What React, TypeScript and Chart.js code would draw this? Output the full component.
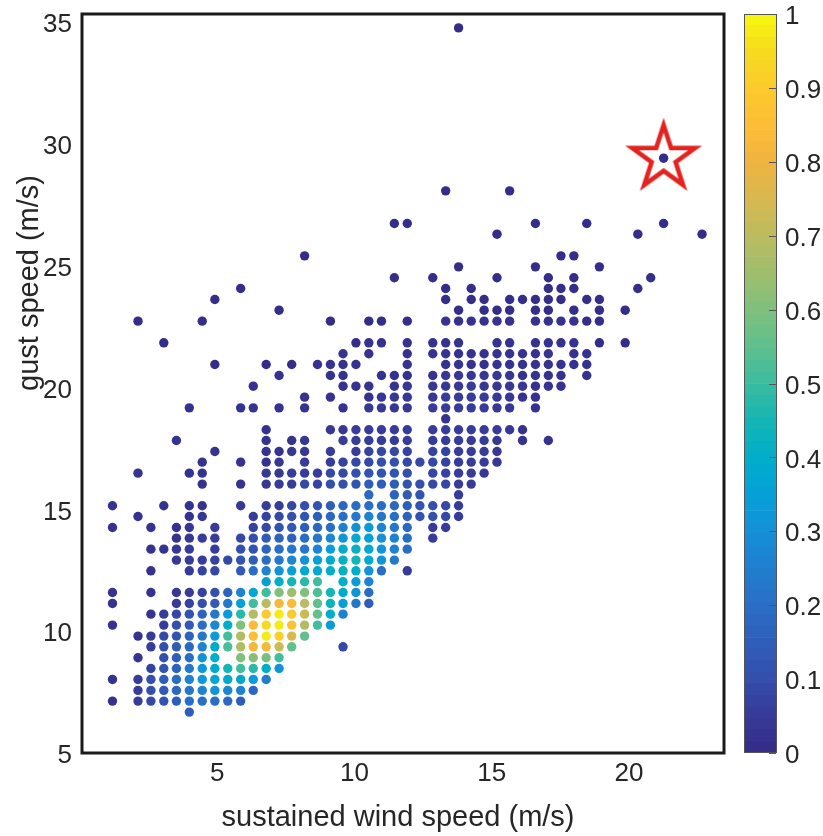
import { useEffect, useRef } from "react";
import { Chart, registerables } from "chart.js";

Chart.register(...registerables);

// ---------------- data ----------------
// gust speed of each row of points (m/s)
const gustLevels = [
  6.68, 7.13, 7.57, 8.02, 8.47, 8.91, 9.36, 9.8, 10.25, 10.7, 11.14, 11.59, 12.03, 12.48, 12.92,
  13.37, 13.82, 14.26, 14.71, 15.15, 15.6, 16.04, 16.49, 16.94, 17.38, 17.83, 18.27, 18.72, 19.17,
  19.61, 20.06, 20.5, 20.95, 21.39, 21.84, 22.73, 23.18, 23.62, 24.07, 24.51, 24.96, 25.41, 26.3,
  26.74, 28.08, 29.42, 34.77,
];

// sustained wind speeds (m/s) of the points in each gust row
const sustainedByRow = [
  [3.98],
  [1.18, 2.11, 2.58, 3.05, 3.51, 3.98, 4.45, 4.91, 5.38, 5.85],
  [2.11, 2.58, 3.05, 3.51, 3.98, 4.45, 4.91, 5.38, 5.85, 6.31],
  [1.18, 2.11, 2.58, 3.05, 3.51, 3.98, 4.45, 4.91, 5.38, 5.85, 6.31, 6.78],
  [2.58, 3.05, 3.51, 3.98, 4.45, 4.91, 5.38, 5.85, 6.31, 6.78, 7.25],
  [2.11, 3.05, 3.51, 3.98, 4.45, 4.91, 5.85, 6.31, 6.78, 7.25],
  [2.58, 3.05, 3.51, 3.98, 4.45, 4.91, 5.38, 5.85, 6.31, 6.78, 7.25, 7.71, 9.58],
  [2.11, 2.58, 3.05, 3.51, 3.98, 4.45, 4.91, 5.38, 5.85, 6.31, 6.78, 7.25, 7.71, 8.18],
  [1.18, 3.05, 3.51, 3.98, 4.45, 4.91, 5.38, 5.85, 6.31, 6.78, 7.25, 7.71, 8.18, 8.65, 9.12],
  [2.58, 3.05, 3.51, 3.98, 4.45, 4.91, 5.38, 5.85, 6.31, 6.78, 7.25, 7.71, 8.18, 8.65, 9.12, 9.58],
  [1.18, 3.51, 3.98, 4.45, 4.91, 5.38, 5.85, 6.31, 6.78, 7.25, 7.71, 8.18, 8.65, 9.12, 9.58, 10.05, 10.52],
  [1.18, 2.58, 3.51, 3.98, 4.45, 4.91, 5.38, 5.85, 6.31, 6.78, 7.25, 7.71, 8.18, 8.65, 9.12, 9.58, 10.05, 10.52],
  [6.78, 7.25, 7.71, 8.18, 8.65, 9.58, 10.05, 10.52],
  [2.58, 3.98, 4.45, 4.91, 5.85, 6.31, 6.78, 7.25, 7.71, 8.18, 8.65, 9.12, 9.58, 10.05, 10.52, 10.98, 11.92],
  [3.51, 3.98, 4.45, 4.91, 5.38, 5.85, 6.31, 6.78, 7.25, 7.71, 8.18, 8.65, 9.12, 9.58, 10.05, 10.52, 10.98, 11.45],
  [2.58, 3.05, 3.51, 3.98, 4.91, 5.85, 6.31, 6.78, 7.25, 7.71, 8.18, 8.65, 9.12, 9.58, 10.05, 10.52, 10.98, 11.45, 11.92],
  [3.51, 3.98, 4.45, 4.91, 5.85, 6.31, 6.78, 7.25, 7.71, 8.18, 8.65, 9.12, 9.58, 10.05, 10.52, 10.98, 11.45, 11.92, 12.85],
  [1.18, 2.58, 3.51, 3.98, 4.91, 6.31, 6.78, 7.25, 7.71, 8.18, 8.65, 9.12, 9.58, 10.05, 10.52, 10.98, 11.45, 11.92, 12.85, 13.32],
  [2.11, 3.98, 4.45, 6.31, 6.78, 7.25, 7.71, 8.18, 8.65, 9.12, 9.58, 10.05, 10.52, 10.98, 11.45, 11.92, 12.38, 12.85, 13.32, 13.79],
  [1.18, 3.05, 3.98, 4.45, 5.85, 6.78, 7.25, 7.71, 8.18, 8.65, 9.12, 9.58, 10.05, 10.52, 10.98, 11.45, 11.92, 12.38, 12.85, 13.32, 13.79],
  [10.52, 11.45, 11.92, 12.38, 13.79],
  [4.45, 5.85, 6.78, 7.25, 7.71, 8.18, 8.65, 9.12, 9.58, 10.05, 10.52, 10.98, 11.45, 11.92, 12.38, 12.85, 13.32, 13.79, 14.25],
  [2.11, 3.98, 4.45, 6.78, 7.25, 7.71, 8.18, 8.65, 9.12, 9.58, 10.05, 10.52, 10.98, 11.45, 11.92, 12.85, 13.32, 13.79, 14.25, 14.72],
  [4.45, 5.85, 6.78, 7.25, 8.18, 9.12, 9.58, 10.05, 10.52, 10.98, 11.45, 11.92, 12.38, 12.85, 13.32, 13.79, 14.25, 14.72, 15.19],
  [4.91, 6.78, 7.25, 7.71, 8.18, 9.12, 10.05, 10.52, 10.98, 11.45, 11.92, 12.85, 13.32, 13.79, 14.25, 14.72, 15.19],
  [3.51, 6.78, 7.71, 8.18, 9.58, 10.05, 10.52, 10.98, 11.45, 11.92, 12.85, 13.32, 13.79, 14.25, 14.72, 15.19, 16.12, 17.06],
  [6.78, 9.12, 9.58, 10.05, 10.52, 10.98, 11.45, 11.92, 12.85, 13.32, 13.79, 14.25, 14.72, 15.19, 15.65, 16.12],
  [13.32],
  [3.98, 5.85, 6.31, 7.25, 8.18, 9.58, 10.52, 10.98, 11.45, 11.92, 12.85, 13.32, 13.79, 14.25, 14.72, 15.19, 15.65, 16.59],
  [8.18, 9.12, 10.52, 10.98, 11.45, 11.92, 12.85, 13.32, 13.79, 14.25, 14.72, 15.19, 15.65, 16.12, 16.59],
  [6.31, 9.58, 10.05, 10.52, 11.45, 11.92, 12.85, 13.32, 13.79, 14.25, 14.72, 15.19, 15.65, 16.12, 16.59, 17.06, 17.52],
  [7.25, 9.12, 9.58, 10.98, 11.45, 11.92, 12.85, 13.32, 13.79, 14.25, 14.72, 15.19, 15.65, 16.12, 16.59, 17.06, 17.52, 18.46],
  [4.91, 6.78, 7.71, 8.65, 9.12, 9.58, 10.05, 11.92, 13.32, 13.79, 14.25, 14.72, 15.19, 15.65, 16.12, 16.59, 17.06, 17.52, 17.99, 18.46],
  [9.58, 10.52, 11.92, 12.85, 13.32, 13.79, 14.25, 14.72, 15.19, 15.65, 16.12, 16.59, 17.06, 17.99, 18.46],
  [3.05, 10.05, 10.52, 10.98, 11.92, 12.85, 13.32, 13.79, 15.19, 15.65, 16.59, 17.06, 17.52, 17.99, 18.92, 19.86],
  [2.11, 4.45, 9.12, 10.52, 10.98, 11.92, 13.32, 13.79, 14.25, 14.72, 15.19, 15.65, 16.59, 17.06, 17.52, 17.99, 18.46, 18.92],
  [7.25, 13.79, 14.72, 15.19, 15.65, 16.59, 17.06, 17.99, 18.92, 19.86],
  [4.91, 13.32, 14.25, 14.72, 15.65, 16.12, 16.59, 17.06, 17.52, 18.46, 18.92],
  [5.85, 13.32, 14.25, 17.06, 17.52, 17.99, 20.32],
  [11.45, 12.85, 15.19, 17.06, 17.99, 20.79],
  [13.79, 16.59, 18.92],
  [8.18, 17.52, 17.99],
  [15.19, 20.32, 22.66],
  [11.45, 11.92, 16.59, 18.46, 21.26],
  [13.32, 15.65],
  [21.26],
  [13.79],
];

// normalised point density (colour value 0..1) of each point above
const densityByRow = [
  [0.15],
  [0.02, 0.05, 0.08, 0.12, 0.15, 0.19, 0.2, 0.2, 0.18, 0.15],
  [0.05, 0.1, 0.14, 0.18, 0.22, 0.26, 0.3, 0.28, 0.25, 0.18],
  [0.02, 0.05, 0.1, 0.15, 0.2, 0.25, 0.32, 0.37, 0.38, 0.37, 0.33, 0.24],
  [0.07, 0.12, 0.17, 0.22, 0.32, 0.38, 0.45, 0.5, 0.47, 0.4, 0.3],
  [0.03, 0.1, 0.15, 0.2, 0.3, 0.4, 0.6, 0.62, 0.58, 0.5],
  [0.05, 0.1, 0.14, 0.18, 0.26, 0.38, 0.52, 0.68, 0.82, 0.82, 0.72, 0.55, 0.08],
  [0.03, 0.06, 0.09, 0.12, 0.16, 0.23, 0.34, 0.5, 0.68, 0.85, 0.97, 0.92, 0.75, 0.55],
  [0.02, 0.06, 0.1, 0.14, 0.2, 0.27, 0.4, 0.6, 0.83, 0.95, 0.98, 0.87, 0.68, 0.5, 0.33],
  [0.03, 0.05, 0.08, 0.11, 0.16, 0.22, 0.33, 0.48, 0.68, 0.9, 0.97, 0.9, 0.72, 0.55, 0.4, 0.25],
  [0.02, 0.05, 0.07, 0.1, 0.14, 0.22, 0.35, 0.5, 0.7, 0.82, 0.83, 0.7, 0.55, 0.43, 0.35, 0.22, 0.15],
  [0.02, 0.02, 0.04, 0.05, 0.07, 0.1, 0.16, 0.26, 0.36, 0.5, 0.6, 0.65, 0.6, 0.52, 0.45, 0.38, 0.3, 0.2],
  [0.33, 0.4, 0.45, 0.48, 0.5, 0.4, 0.33, 0.25],
  [0.03, 0.05, 0.07, 0.08, 0.14, 0.2, 0.25, 0.3, 0.35, 0.38, 0.38, 0.4, 0.42, 0.4, 0.3, 0.2, 0.05],
  [0.04, 0.05, 0.06, 0.07, 0.08, 0.12, 0.15, 0.2, 0.23, 0.28, 0.3, 0.35, 0.38, 0.42, 0.45, 0.38, 0.32, 0.22],
  [0.03, 0.03, 0.04, 0.05, 0.06, 0.1, 0.12, 0.17, 0.2, 0.22, 0.22, 0.28, 0.35, 0.4, 0.42, 0.38, 0.32, 0.25, 0.2],
  [0.03, 0.04, 0.05, 0.06, 0.08, 0.1, 0.14, 0.16, 0.17, 0.2, 0.22, 0.28, 0.32, 0.38, 0.35, 0.3, 0.25, 0.2, 0.05],
  [0.02, 0.02, 0.03, 0.04, 0.05, 0.07, 0.09, 0.11, 0.13, 0.15, 0.18, 0.2, 0.25, 0.3, 0.33, 0.28, 0.22, 0.18, 0.06, 0.05],
  [0.02, 0.03, 0.04, 0.05, 0.07, 0.08, 0.1, 0.12, 0.15, 0.18, 0.2, 0.22, 0.25, 0.22, 0.2, 0.16, 0.12, 0.1, 0.08, 0.05],
  [0.02, 0.02, 0.03, 0.03, 0.04, 0.05, 0.06, 0.08, 0.1, 0.12, 0.15, 0.18, 0.2, 0.2, 0.2, 0.18, 0.15, 0.12, 0.1, 0.08, 0.05],
  [0.18, 0.16, 0.14, 0.12, 0.05],
  [0.02, 0.03, 0.04, 0.05, 0.06, 0.08, 0.07, 0.1, 0.1, 0.12, 0.15, 0.15, 0.15, 0.12, 0.1, 0.09, 0.08, 0.06, 0.05],
  [0.02, 0.02, 0.03, 0.04, 0.04, 0.05, 0.06, 0.06, 0.08, 0.08, 0.1, 0.12, 0.12, 0.12, 0.1, 0.08, 0.07, 0.06, 0.05, 0.04],
  [0.02, 0.02, 0.03, 0.04, 0.05, 0.06, 0.07, 0.08, 0.09, 0.1, 0.1, 0.09, 0.08, 0.08, 0.07, 0.06, 0.06, 0.05, 0.04],
  [0.02, 0.03, 0.03, 0.04, 0.04, 0.05, 0.06, 0.07, 0.08, 0.08, 0.07, 0.07, 0.07, 0.06, 0.05, 0.05, 0.04],
  [0.02, 0.03, 0.03, 0.04, 0.05, 0.05, 0.06, 0.06, 0.06, 0.06, 0.06, 0.06, 0.05, 0.05, 0.05, 0.04, 0.03, 0.02],
  [0.02, 0.04, 0.04, 0.05, 0.05, 0.05, 0.05, 0.05, 0.06, 0.06, 0.06, 0.06, 0.05, 0.05, 0.04, 0.03],
  [0.03],
  [0.02, 0.02, 0.02, 0.02, 0.03, 0.03, 0.04, 0.04, 0.04, 0.04, 0.05, 0.05, 0.05, 0.05, 0.05, 0.04, 0.04, 0.03],
  [0.02, 0.03, 0.03, 0.04, 0.04, 0.04, 0.04, 0.05, 0.05, 0.05, 0.05, 0.04, 0.04, 0.03, 0.03],
  [0.02, 0.03, 0.03, 0.03, 0.03, 0.04, 0.04, 0.04, 0.04, 0.05, 0.04, 0.04, 0.04, 0.04, 0.03, 0.03, 0.02],
  [0.02, 0.02, 0.02, 0.03, 0.03, 0.03, 0.03, 0.04, 0.04, 0.04, 0.04, 0.04, 0.04, 0.03, 0.03, 0.03, 0.02, 0.02],
  [0.01, 0.01, 0.01, 0.02, 0.02, 0.02, 0.02, 0.02, 0.03, 0.03, 0.03, 0.03, 0.03, 0.03, 0.03, 0.03, 0.03, 0.02, 0.02, 0.02],
  [0.02, 0.02, 0.02, 0.02, 0.02, 0.03, 0.03, 0.03, 0.03, 0.03, 0.02, 0.02, 0.02, 0.02, 0.02],
  [0.01, 0.01, 0.02, 0.02, 0.02, 0.02, 0.02, 0.02, 0.02, 0.02, 0.02, 0.02, 0.02, 0.02, 0.01, 0.01],
  [0.01, 0.01, 0.01, 0.01, 0.01, 0.01, 0.02, 0.02, 0.02, 0.02, 0.02, 0.02, 0.02, 0.02, 0.02, 0.02, 0.01, 0.01],
  [0.01, 0.01, 0.01, 0.01, 0.01, 0.01, 0.01, 0.01, 0.01, 0.01],
  [0.01, 0.01, 0.01, 0.01, 0.01, 0.01, 0.01, 0.01, 0.01, 0.01, 0.01],
  [0.01, 0.01, 0.01, 0.01, 0.01, 0.01, 0.01],
  [0.01, 0.01, 0.01, 0.01, 0.01, 0.01],
  [0.01, 0.01, 0.01],
  [0.01, 0.01, 0.01],
  [0.01, 0.01, 0.01],
  [0.01, 0.01, 0.01, 0.01, 0.01],
  [0.01, 0.01],
  [0.01],
  [0.01],
];

// the highlighted (starred) observation
const markedSustained = 21.26;
const markedGust = 29.42;

const xTickValues = [5, 10, 15, 20];
const yTickValues = [5, 10, 15, 20, 25, 30, 35];
const colorbarTickValues = [0, 0.1, 0.2, 0.3, 0.4, 0.5, 0.6, 0.7, 0.8, 0.9, 1];
const xTitle = "sustained wind speed (m/s)";
const yTitle = "gust speed (m/s)";

// ---------------- styling ----------------
const FONT = '"Liberation Sans", Arial, Helvetica, sans-serif';
const TEXT = "#262626";

// colour map stops (position, colour) as seen on the reference colour bar
const CMAP_STOPS: [number, number[]][] = [
  [0.0, [53, 42, 135]],
  [0.05, [55, 58, 152]],
  [0.1, [52, 78, 172]],
  [0.15, [47, 94, 186]],
  [0.2, [42, 110, 198]],
  [0.25, [33, 126, 208]],
  [0.3, [20, 144, 216]],
  [0.35, [5, 160, 216]],
  [0.4, [0, 174, 200]],
  [0.45, [22, 182, 180]],
  [0.5, [60, 188, 160]],
  [0.55, [94, 192, 140]],
  [0.6, [128, 192, 124]],
  [0.65, [160, 190, 108]],
  [0.7, [188, 188, 96]],
  [0.75, [216, 184, 80]],
  [0.8, [240, 180, 64]],
  [0.85, [252, 190, 54]],
  [0.9, [252, 202, 44]],
  [0.95, [246, 220, 30]],
  [1.0, [248, 248, 14]],
];

function cmapAt(t: number): number[] {
  for (let i = 1; i < CMAP_STOPS.length; i++) {
    const [t1, c1] = CMAP_STOPS[i];
    const [t0, c0] = CMAP_STOPS[i - 1];
    if (t <= t1) {
      const f = (t - t0) / (t1 - t0);
      return c0.map((v, k) => v + (c1[k] - v) * f);
    }
  }
  return CMAP_STOPS[CMAP_STOPS.length - 1][1];
}

const LEVELS = 64;
const COLORMAP: string[] = Array.from({ length: LEVELS }, (_, k) => {
  const c = cmapAt((k + 0.5) / LEVELS);
  return `rgb(${Math.round(c[0])},${Math.round(c[1])},${Math.round(c[2])})`;
});

function colorFor(v: number) {
  const k = Math.max(0, Math.min(LEVELS - 1, Math.floor(v * LEVELS)));
  return COLORMAP[k];
}

function makeStar(): HTMLCanvasElement {
  const cv = document.createElement("canvas");
  cv.width = 96;
  cv.height = 96;
  const ctx = cv.getContext("2d")!;
  const c = 48;
  const R = 33;
  const r = R * 0.382;
  ctx.beginPath();
  for (let k = 0; k < 10; k++) {
    const a = -Math.PI / 2 + (k * Math.PI) / 5;
    const rad = k % 2 === 0 ? R : r;
    const px = c + rad * Math.cos(a);
    const py = c + rad * Math.sin(a);
    if (k === 0) ctx.moveTo(px, py);
    else ctx.lineTo(px, py);
  }
  ctx.closePath();
  ctx.lineJoin = "miter";
  ctx.miterLimit = 10;
  ctx.lineWidth = 4.6;
  ctx.strokeStyle = "#e3231f";
  ctx.stroke();
  return cv;
}

const zeroPad = (s: any) => {
  s.paddingLeft = 0;
  s.paddingRight = 0;
  s.paddingTop = 0;
  s.paddingBottom = 0;
};

export default function App() {
  const mainRef = useRef<HTMLCanvasElement>(null);
  const barRef = useRef<HTMLCanvasElement>(null);

  useEffect(() => {
    document.body.style.margin = "0";
    const points: { x: number; y: number }[] = [];
    const colors: string[] = [];
    gustLevels.forEach((g, r) => {
      sustainedByRow[r].forEach((s, k) => {
        points.push({ x: s, y: g });
        colors.push(colorFor(densityByRow[r][k] ?? 0));
      });
    });

    const tickFont = { family: FONT, size: 26 };

    const framePlugin = {
      id: "frame",
      afterDraw(chart: any) {
        const { ctx, chartArea: a } = chart;
        ctx.save();
        ctx.strokeStyle = "#1a1a1a";
        ctx.lineWidth = 3;
        ctx.strokeRect(a.left, a.top, a.right - a.left, a.bottom - a.top);
        ctx.fillStyle = TEXT;
        ctx.font = `29px ${FONT}`;
        ctx.textAlign = "center";
        ctx.textBaseline = "middle";
        ctx.fillText(xTitle, 398, 818);
        ctx.translate(30, 283);
        ctx.rotate(-Math.PI / 2);
        ctx.fillText(yTitle, 0, 0);
        ctx.restore();
      },
    };

    const main = new Chart(mainRef.current!, {
      type: "scatter",
      data: {
        datasets: [
          {
            data: points,
            backgroundColor: colors,
            borderWidth: 0,
            pointRadius: 4.7,
            pointHoverRadius: 4.7,
          },
          {
            data: [{ x: markedSustained, y: markedGust }],
            pointStyle: makeStar() as any,
            pointRadius: 30,
            backgroundColor: "rgba(0,0,0,0)",
            borderWidth: 0,
          },
        ],
      },
      options: {
        responsive: false,
        animation: false,
        events: [],
        layout: { autoPadding: false, padding: { left: 0, top: 14, right: 16, bottom: 0 } },
        plugins: { legend: { display: false }, tooltip: { enabled: false } },
        scales: {
          x: {
            type: "linear",
            min: 0.07,
            max: 23.46,
            afterBuildTicks: (s: any) => {
              s.ticks = xTickValues.map((v) => ({ value: v }));
            },
            afterFit: (s: any) => {
              s.height = 83;
              zeroPad(s);
            },
            grid: { display: false, drawTicks: false },
            border: { display: false },
            ticks: { font: tickFont, color: TEXT, padding: 5, maxRotation: 0 },
          },
          y: {
            type: "linear",
            min: 5,
            max: 35.34,
            afterBuildTicks: (s: any) => {
              s.ticks = yTickValues.map((v) => ({ value: v }));
            },
            afterFit: (s: any) => {
              s.width = 82;
              zeroPad(s);
            },
            grid: { display: false, drawTicks: false },
            border: { display: false },
            ticks: { font: tickFont, color: TEXT, padding: 10, labelOffset: 3 },
          },
        },
      },
      plugins: [framePlugin],
    });

    const barFrame = {
      id: "barFrame",
      afterDraw(chart: any) {
        const { ctx, chartArea: a } = chart;
        const y = chart.scales.y;
        ctx.save();
        ctx.strokeStyle = "#555555";
        ctx.lineWidth = 1;
        ctx.strokeRect(a.left + 0.5, a.top + 0.5, a.right - a.left - 1, a.bottom - a.top - 1);
        ctx.beginPath();
        colorbarTickValues.forEach((v) => {
          const py = Math.round(y.getPixelForValue(v)) + 0.5;
          ctx.moveTo(a.right - 1, py);
          ctx.lineTo(a.right - 8, py);
        });
        ctx.stroke();
        ctx.restore();
      },
    };

    const bar = new Chart(barRef.current!, {
      type: "bar",
      data: {
        labels: [""],
        datasets: COLORMAP.map((c, k) => ({
          data: [[k / LEVELS, (k + 1) / LEVELS]] as any,
          backgroundColor: c,
          borderWidth: 0,
          barPercentage: 1,
          categoryPercentage: 1,
          grouped: false,
        })),
      },
      options: {
        responsive: false,
        animation: false,
        events: [],
        layout: { autoPadding: false, padding: { left: 14, top: 14, right: 0, bottom: 83 } },
        plugins: { legend: { display: false }, tooltip: { enabled: false } },
        scales: {
          x: { display: false, stacked: true },
          y: {
            position: "right",
            min: 0,
            max: 1,
            afterBuildTicks: (s: any) => {
              s.ticks = colorbarTickValues.map((v) => ({ value: v }));
            },
            afterFit: (s: any) => {
              s.width = 46;
              zeroPad(s);
            },
            grid: { display: false, drawTicks: false },
            border: { display: false },
            ticks: {
              font: tickFont,
              color: TEXT,
              padding: 8,
              labelOffset: 3,
              callback: (v: any) => String(v),
            },
          },
        },
      },
      plugins: [barFrame],
    });

    return () => {
      main.destroy();
      bar.destroy();
    };
  }, []);

  return (
    <div style={{ position: "relative", width: 823, height: 836, background: "#fff" }}>
      <canvas ref={mainRef} width={740} height={836} style={{ position: "absolute", left: 0, top: 0 }} />
      <canvas ref={barRef} width={93} height={836} style={{ position: "absolute", left: 730, top: 0 }} />
    </div>
  );
}
